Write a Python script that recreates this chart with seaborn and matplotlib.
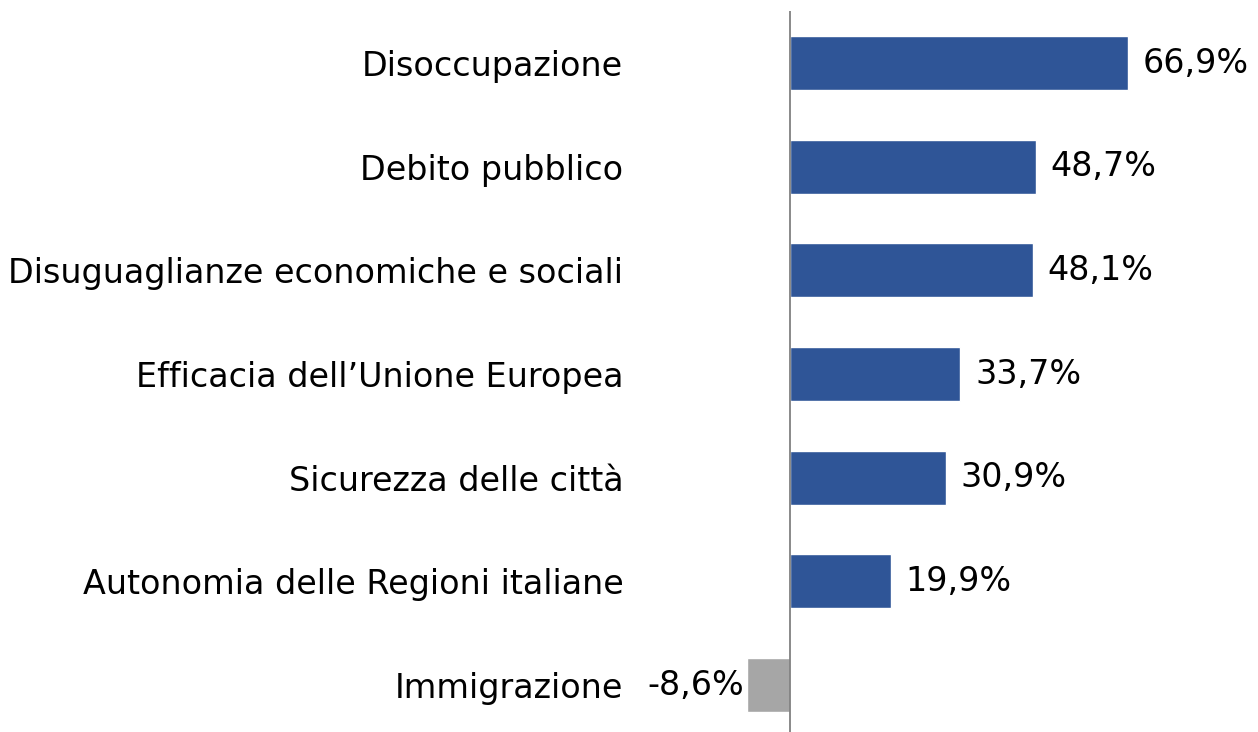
import matplotlib
matplotlib.use("Agg")
import matplotlib.pyplot as plt
import seaborn as sns
import pandas as pd

# ==========================================
# DATA
# ==========================================
categories = [
    "Disoccupazione",
    "Debito pubblico",
    "Disuguaglianze economiche e sociali",
    "Efficacia dell\u2019Unione Europea",
    "Sicurezza delle città",
    "Autonomia delle Regioni italiane",
    "Immigrazione",
]
values = [66.9, 48.7, 48.1, 33.7, 30.9, 19.9, -8.6]

BLUE = "#2F5597"
GREY = "#A6A6A6"

df = pd.DataFrame({"categoria": categories, "valore": values})
colors = [BLUE if v >= 0 else GREY for v in values]

sns.set_theme(style="white")
plt.rcParams["font.family"] = ["DejaVu Sans"]
FS = 24

fig = plt.figure(figsize=(12.58, 7.32), dpi=100)
ax = fig.add_axes([640 / 1258, -0.0066, 618 / 1258, 0.9913])

sns.barplot(data=df, y="categoria", x="valore", hue="categoria",
            palette=colors, legend=False, orient="h", width=0.52,
            saturation=1, ax=ax)

ax.set_xlim(-29.7, 92.6)
ax.set_ylim(6.5, -0.5)
ax.axvline(0, color="#808080", lw=1.3, ymin=0, ymax=1)

for s in ax.spines.values():
    s.set_visible(False)
ax.set_xticks([])
ax.set_xlabel("")
ax.set_ylabel("")
ax.tick_params(axis="y", length=0, pad=12, labelsize=FS, labelcolor="black")

# value labels
for i, v in enumerate(values):
    txt = f"{v:.1f}%".replace(".", ",")
    if v >= 0:
        ax.annotate(txt, (v, i), xytext=(10.5, 0), textcoords="offset points",
                    ha="left", va="center", fontsize=FS, color="black")
    else:
        ax.annotate(txt, (v, i), xytext=(-2, 0), textcoords="offset points",
                    ha="right", va="center", fontsize=FS, color="black")

fig.savefig("out.png", dpi=100)
